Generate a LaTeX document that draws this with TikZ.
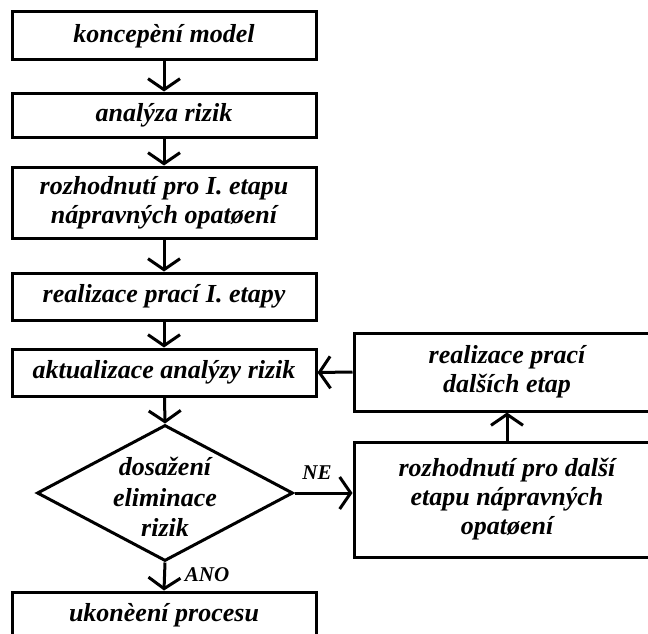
\documentclass[tikz,border=0pt]{standalone}
\usepackage{fontspec}
\setmainfont{Liberation Serif}
\usetikzlibrary{arrows.meta,shapes.geometric}
\begin{document}
\begin{tikzpicture}[x=1pt,y=-1pt,
  box/.style={draw,line width=3pt,rectangle,inner sep=0pt,align=center,
    font=\fontsize{26}{29}\selectfont\bfseries\itshape},
  dia/.style={draw,line width=3pt,diamond,inner sep=0pt,minimum width=256pt,minimum height=136pt},
  txt/.style={inner sep=0pt,align=center,font=\fontsize{26}{30.5}\selectfont\bfseries\itshape},
  lbl/.style={inner sep=0pt,font=\fontsize{21}{23}\selectfont\bfseries\itshape},
  arr/.style={line width=3pt,-{Straight Barb[length=11pt,width=32pt]}}]
\useasboundingbox (0,0) rectangle (648,634);
\clip (0,0) rectangle (648,634);
\node[box,minimum width=304pt,minimum height=48pt] (b1) at (164,36) {koncepèní model};
\node[box,minimum width=304pt,minimum height=44pt] (b2) at (164,115) {analýza rizik};
\node[box,minimum width=304pt,minimum height=71pt] (b3) at (164,202.5) {rozhodnutí pro I. etapu\\nápravných opatøení};
\node[box,minimum width=304pt,minimum height=47pt] (b4) at (164,296.5) {realizace prací I. etapy};
\node[box,minimum width=304pt,minimum height=47pt] (b5) at (164,372.5) {aktualizace analýzy rizik};
\node[dia] (d) at (165,493) {};
\node[txt] (dt) at (165,497) {dosažení\\eliminace\\rizik};
\node[box,minimum width=304pt,minimum height=46pt] (b6) at (164,615) {};
\node[txt] (b6t) at (164,615) {ukonèení procesu};
\node[box,minimum width=306pt,minimum height=78pt] (r1) at (507,372) {realizace prací\\dalších etap};
\node[box,minimum width=306pt,minimum height=115pt] (r2) at (507,499.5) {rozhodnutí pro další\\etapu nápravných\\opatøení};
\draw[arr] (b1) -- (b2);
\draw[arr] (b2) -- (b3);
\draw[arr] (b3) -- (b4);
\draw[arr] (b4) -- (b5);
\draw[arr] (b5) -- (d.north);
\draw[arr] (d.south) -- (b6.north);
\draw[arr] (d.east) -- (d.east -| r2.west);
\draw[arr] (r2) -- (r1);
\draw[arr] (r1.west) -- (b5.east);
\node[lbl] (ne) at (317,473) {NE};
\node[lbl] (ano) at (207,575) {ANO};
\end{tikzpicture}
\end{document}
